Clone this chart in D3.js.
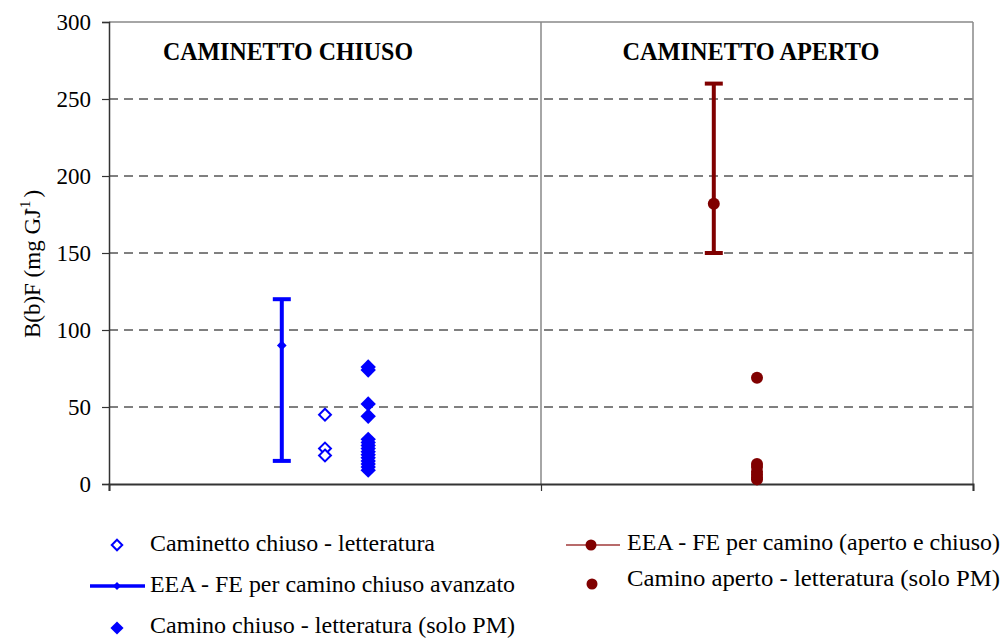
<!DOCTYPE html>
<html><head><meta charset="utf-8">
<script src="https://cdn.jsdelivr.net/npm/d3@7/dist/d3.min.js"></script>
<style>body{margin:0;background:#fff}svg{display:block}svg text{font-family:'Liberation Serif','Times New Roman','DejaVu Serif',serif !important}</style>
</head><body>
<svg id="c" width="1005" height="640" font-family="Liberation Serif"></svg>
<script>
// ---- data ----
const panels = ["CAMINETTO CHIUSO", "CAMINETTO APERTO"];
const yTicks = [0, 50, 100, 150, 200, 250, 300];
// EEA error bars: x position (scatter x), low, mid, high
const eeaChiuso = {x: 0.4, low: 15, mid: 90, high: 120};
const eeaCamino = {x: 1.4, low: 150, mid: 182, high: 260};
// Caminetto chiuso - letteratura (open diamonds)
const litChiusoX = 0.5;
const litChiuso = [45, 23, 18.5];
// Camino chiuso - letteratura (solo PM) (filled diamonds)
const pmChiusoX = 0.6;
const pmChiuso = [76, 74, 52, 44, 29, 27, 25, 23, 21, 19, 17, 15, 13, 11, 9];
// Camino aperto - letteratura (solo PM) (filled circles)
const pmApertoX = 1.5;
const pmAperto = [69, 13, 11, 8, 6, 4, 3];
const legendLabels = [
  "Caminetto chiuso - letteratura",
  "EEA - FE per camino chiuso avanzato",
  "Camino chiuso - letteratura (solo PM)",
  "EEA - FE per camino (aperto e chiuso)",
  "Camino aperto - letteratura (solo PM)"
];

const FONT = "'Liberation Serif', 'Times New Roman', serif";
const BLUE = "#0000ff", RED = "#800000";
const svg = d3.select("#c");
const L = 109, R = 973, T = 22, B = 484;
const x = d3.scaleLinear().domain([0, 2]).range([L, R]);
const y = d3.scaleLinear().domain([0, 300]).range([B, T]);

// gridlines
svg.append("g").selectAll("line").data(yTicks.filter(t => t > 0 && t < 300)).join("line")
  .attr("x1", L).attr("x2", R).attr("y1", d => y(d)).attr("y2", d => y(d))
  .attr("stroke", "#000").attr("stroke-width", 1).attr("stroke-dasharray", "9,6");

// plot border (top, right) and divider
svg.append("line").attr("x1", L).attr("x2", R).attr("y1", y(300)).attr("y2", y(300)).attr("stroke", "#888").attr("stroke-width", 1.5);
svg.append("line").attr("x1", x(2)).attr("x2", x(2)).attr("y1", y(300)).attr("y2", y(0)).attr("stroke", "#888").attr("stroke-width", 1.5);
svg.append("line").attr("x1", x(1)).attr("x2", x(1)).attr("y1", y(300)).attr("y2", y(0)).attr("stroke", "#888").attr("stroke-width", 1.5);

// y axis
const yAxis = svg.append("g").attr("transform", `translate(${L},0)`)
  .call(d3.axisLeft(y).tickValues(yTicks).tickSize(7).tickPadding(11));
yAxis.attr("font-family", FONT);
yAxis.select(".domain").attr("stroke", "#333").attr("stroke-width", 1.5);
yAxis.selectAll(".tick line").attr("stroke", "#333").attr("stroke-width", 1.2);
yAxis.selectAll("text").attr("font-size", 23).style("font-family", FONT).attr("fill", "#000");

// x axis
const xAxis = svg.append("g").attr("transform", `translate(0,${B})`)
  .call(d3.axisBottom(x).tickValues([0, 1, 2]).tickSize(7).tickFormat(""));
xAxis.select(".domain").attr("stroke", "#333").attr("stroke-width", 2);
xAxis.selectAll(".tick line").attr("stroke", "#333").attr("stroke-width", 1.2);

// panel titles
svg.selectAll(".ptitle").data(panels).join("text")
  .attr("x", (d, i) => x(i + 0.5) - (i === 0 ? 37 : 6)).attr("y", 59.5)
  .attr("text-anchor", "middle").attr("font-weight", "bold").attr("font-size", 25)
  .style("font-family", FONT)
  .attr("textLength", (d, i) => i === 0 ? 250 : 257).attr("lengthAdjust", "spacingAndGlyphs")
  .text(d => d);

// y label
const yl = svg.append("text").attr("transform", `translate(40,${264}) rotate(-90)`)
  .attr("text-anchor", "middle").attr("font-size", 23).style("font-family", FONT);
yl.append("tspan").text("B(b)F (mg GJ");
yl.append("tspan").attr("font-size", 15).attr("dy", -10).attr("dx", -4).text("-1");
yl.append("tspan").attr("dy", 10).attr("dx", 3).text(")");

const diamond = d3.symbol().type(d3.symbolDiamond2);

// error bars
function errBar(e, color, capW) {
  const g = svg.append("g").attr("stroke", color).attr("stroke-width", 4);
  g.append("line").attr("x1", x(e.x)).attr("x2", x(e.x)).attr("y1", y(e.low)).attr("y2", y(e.high));
  g.append("line").attr("x1", x(e.x) - capW / 2).attr("x2", x(e.x) + capW / 2).attr("y1", y(e.low)).attr("y2", y(e.low));
  g.append("line").attr("x1", x(e.x) - capW / 2).attr("x2", x(e.x) + capW / 2).attr("y1", y(e.high)).attr("y2", y(e.high));
}
errBar(eeaChiuso, BLUE, 18);
errBar(eeaCamino, RED, 18);
svg.append("path").attr("d", diamond.size(60)()).attr("fill", BLUE)
  .attr("transform", `translate(${x(eeaChiuso.x)},${y(eeaChiuso.mid)})`);
svg.append("circle").attr("cx", x(eeaCamino.x)).attr("cy", y(eeaCamino.mid)).attr("r", 6).attr("fill", RED);

// open diamonds
svg.append("g").selectAll("path").data(litChiuso).join("path")
  .attr("d", diamond.size(90)()).attr("fill", "#fff").attr("stroke", BLUE).attr("stroke-width", 2)
  .attr("transform", d => `translate(${x(litChiusoX)},${y(d)})`);
// filled diamonds
svg.append("g").selectAll("path").data(pmChiuso).join("path")
  .attr("d", diamond.size(150)()).attr("fill", BLUE)
  .attr("transform", d => `translate(${x(pmChiusoX)},${y(d)})`);
// filled circles
svg.append("g").selectAll("circle").data(pmAperto).join("circle")
  .attr("cx", x(pmApertoX)).attr("cy", d => y(d)).attr("r", 6).attr("fill", RED);

// legend
const lg = svg.append("g");
const rows = [
  {x: 117, y: 545, tx: 150, ty: 551, w: 285, type: "open"},
  {x: 117, y: 586, tx: 150, ty: 592, w: 365, type: "blueline"},
  {x: 117, y: 628, tx: 150, ty: 633, w: 365, type: "fdiamond"},
  {x: 591, y: 545, tx: 627, ty: 550, w: 373, type: "redline"},
  {x: 592, y: 584, tx: 627, ty: 586, w: 373, type: "rdot"}
];
rows.forEach((r, i) => {
  if (r.type === "open") lg.append("path").attr("d", diamond.size(70)()).attr("fill", "#fff").attr("stroke", BLUE).attr("stroke-width", 2).attr("transform", `translate(${r.x},${r.y})`);
  if (r.type === "blueline") {
    lg.append("line").attr("x1", 90).attr("x2", 145).attr("y1", r.y).attr("y2", r.y).attr("stroke", BLUE).attr("stroke-width", 3.5);
    lg.append("path").attr("d", diamond.size(40)()).attr("fill", BLUE).attr("transform", `translate(${r.x},${r.y})`);
  }
  if (r.type === "fdiamond") lg.append("path").attr("d", diamond.size(110)()).attr("fill", BLUE).attr("transform", `translate(${r.x},${r.y})`);
  if (r.type === "redline") {
    lg.append("line").attr("x1", 566).attr("x2", 620).attr("y1", r.y).attr("y2", r.y).attr("stroke", "#a03a3a").attr("stroke-width", 1.5);
    lg.append("circle").attr("cx", r.x).attr("cy", r.y).attr("r", 5.5).attr("fill", RED);
  }
  if (r.type === "rdot") lg.append("circle").attr("cx", r.x).attr("cy", r.y).attr("r", 5.5).attr("fill", RED);
  lg.append("text").attr("x", r.tx).attr("y", r.ty).attr("font-size", 23).style("font-family", FONT)
    .attr("textLength", r.w).attr("lengthAdjust", "spacingAndGlyphs").text(legendLabels[i]);
});
</script>
</body></html>
